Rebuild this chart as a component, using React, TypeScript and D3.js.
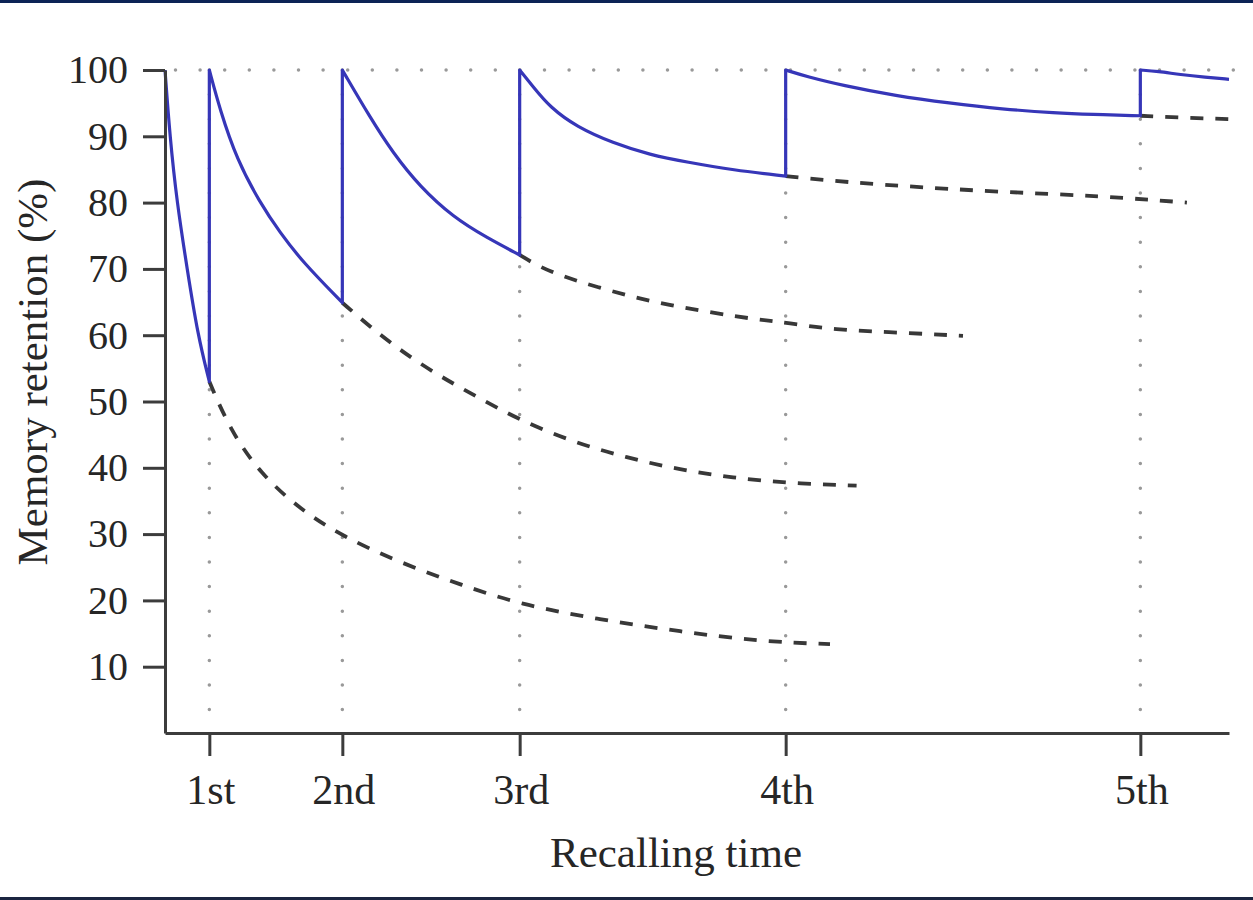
import React, { useEffect, useRef } from "react";
import * as d3 from "d3";

// ---- data ----
const recallTimes = [1, 4, 8, 14, 22];
const recallLabels = ["1st", "2nd", "3rd", "4th", "5th"];
const yTickValues = [10, 20, 30, 40, 50, 60, 70, 80, 90, 100];
const timeDomain = [0, 24];
const retentionDomain = [0, 100];

type Pt = [number, number];

// solid (blue) retention after each recall
const retention0: Pt[] = [[0, 100], [0.11, 90], [0.27, 80], [0.5, 70], [0.74, 60], [1, 53]];
const retention1: Pt[] = [[1, 100], [1.24, 94], [1.62, 86.5], [2.14, 80], [2.59, 75.5], [3.11, 71], [4, 64.9]];
const retention2: Pt[] = [[4, 100], [4.62, 92.9], [5.14, 87.5], [5.75, 82.4], [6.5, 77.8], [7.26, 74.7], [8, 72.1]];
const retention3: Pt[] = [[8, 100], [8.3, 97.5], [8.68, 94.4], [9.29, 91.4], [10.1, 89], [10.94, 87.2], [11.78, 86.1], [12.81, 84.9], [14, 84]];
const retention4: Pt[] = [[14, 100], [14.48, 99], [15.27, 97.7], [16.49, 96.1], [17.69, 95], [18.88, 94.1], [20.1, 93.5], [20.89, 93.3], [22, 93.1]];
const retention5: Pt[] = [[22, 100], [22.4, 99.8], [22.9, 99.3], [23.46, 98.9], [24, 98.6]];

// dashed forgetting curves without further recall
const forget1: Pt[] = [[1, 53], [1.47, 45.7], [2.14, 39.2], [3.05, 33.7], [4.02, 29.6], [5.3, 25.7], [6.65, 22.4], [8, 19.4], [9.81, 17.1], [11.62, 15.3], [13.42, 13.8], [15, 13.4]];
const forget2: Pt[] = [[4, 64.9], [4.62, 61.3], [5.37, 57.4], [6.2, 53.8], [7.04, 50.7], [8, 47.2], [9.2, 43.9], [10.42, 41.5], [11.62, 39.7], [12.81, 38.5], [14.03, 37.7], [15.6, 37.3]];
const forget3: Pt[] = [[8, 72.1], [8.62, 69.6], [9.81, 67.1], [11, 65], [12.23, 63.5], [13.42, 62.3], [14.03, 61.9], [15.07, 60.8], [16.58, 60.4], [18, 59.9]];
const forget4: Pt[] = [[14, 84], [15, 83.3], [16.58, 82.5], [18.84, 81.6], [21.1, 81], [23.05, 80]];
const forget5: Pt[] = [[22, 93.1], [23, 92.8], [24, 92.6]];

const retentionSegments = [retention0, retention1, retention2, retention3, retention4, retention5];
const forgetCurves = [forget1, forget2, forget3, forget4, forget5];

const W = 1253;
const H = 900;
const FONT = "'Liberation Serif', 'Times New Roman', serif";

export default function App() {
  const xAxisRef = useRef<SVGGElement>(null);
  const yAxisRef = useRef<SVGGElement>(null);

  const x = d3.scaleLinear().domain(timeDomain).range([165, 1229]);
  const y = d3.scaleLinear().domain(retentionDomain).range([733, 70]);

  const line = d3
    .line<Pt>()
    .x((d) => x(d[0]))
    .y((d) => y(d[1]))
    .curve(d3.curveBasis);

  const solidPath = retentionSegments
    .map((seg, i) => {
      const d = line(seg) || "";
      return i === 0 ? d : "L" + d.slice(1);
    })
    .join("");

  useEffect(() => {
    if (xAxisRef.current) {
      const g = d3.select(xAxisRef.current);
      g.call(
        d3
          .axisBottom(x)
          .tickValues(recallTimes)
          .tickFormat((_, i) => recallLabels[i])
          .tickSize(23)
          .tickSizeOuter(0)
          .tickPadding(18)
      );
      g.select(".domain").attr("stroke", "#3c3c3c").attr("stroke-width", 3);
      g.selectAll(".tick line").attr("stroke", "#3c3c3c").attr("stroke-width", 3);
      g.selectAll(".tick text")
        .attr("font-family", FONT)
        .attr("font-size", 42)
        .attr("fill", "#262626")
        .attr("dx", 1);
      g.attr("font-family", null).attr("font-size", null);
    }
    if (yAxisRef.current) {
      const g = d3.select(yAxisRef.current);
      g.call(
        d3
          .axisLeft(y)
          .tickValues(yTickValues)
          .tickFormat(d3.format("d"))
          .tickSize(22)
          .tickSizeOuter(0)
          .tickPadding(15)
      );
      g.select(".domain").attr("stroke", "#3c3c3c").attr("stroke-width", 3);
      g.selectAll(".tick line").attr("stroke", "#3c3c3c").attr("stroke-width", 3);
      g.selectAll(".tick text")
        .attr("font-family", FONT)
        .attr("font-size", 40)
        .attr("fill", "#262626");
      g.attr("font-family", null).attr("font-size", null);
    }
  }, []);

  return (
    <svg
      width={W}
      height={H}
      style={{ position: "absolute", left: 0, top: 0, background: "#ffffff" }}
    >
      <rect x={0} y={0} width={W} height={H} fill="#ffffff" />
      {/* top and bottom frame bands */}
      <rect x={0} y={0} width={W} height={3} fill="#0c2356" />
      <rect x={0} y={897} width={W} height={3} fill="#1b2540" />

      {/* dotted reference lines */}
      <line
        x1={x(timeDomain[0])}
        x2={x(timeDomain[1])}
        y1={y(100)}
        y2={y(100)}
        stroke="#999999"
        strokeWidth={3.5}
        strokeDasharray="0 24.6"
        strokeLinecap="round"
        transform="translate(10.5,0)"
      />
      {recallTimes.map((t) => (
        <line
          key={"v" + t}
          x1={x(t)}
          x2={x(t)}
          y1={y(100)}
          y2={y(3)}
          stroke="#999999"
          strokeWidth={3.5}
          strokeDasharray="0 24.6"
          strokeLinecap="round"
        />
      ))}

      {/* dashed forgetting curves */}
      {forgetCurves.map((c, i) => (
        <path
          key={"f" + i}
          d={line(c) || ""}
          fill="none"
          stroke="#383838"
          strokeWidth={3.8}
          strokeDasharray="13 12"
        />
      ))}

      {/* solid retention curve */}
      <path d={solidPath} fill="none" stroke="#3636b8" strokeWidth={3.2} strokeLinejoin="round" />

      <g ref={xAxisRef} transform={`translate(0,${y(0)})`} />
      <g ref={yAxisRef} transform={`translate(${x(0)},0)`} />

      <text
        x={676}
        y={867}
        textAnchor="middle"
        fontFamily={FONT}
        fontSize={43}
        fill="#262626"
      >
        Recalling time
      </text>
      <text
        transform={`translate(47,372) rotate(-90)`}
        textAnchor="middle"
        fontFamily={FONT}
        fontSize={43}
        fill="#262626"
      >
        Memory retention (%)
      </text>
    </svg>
  );
}
